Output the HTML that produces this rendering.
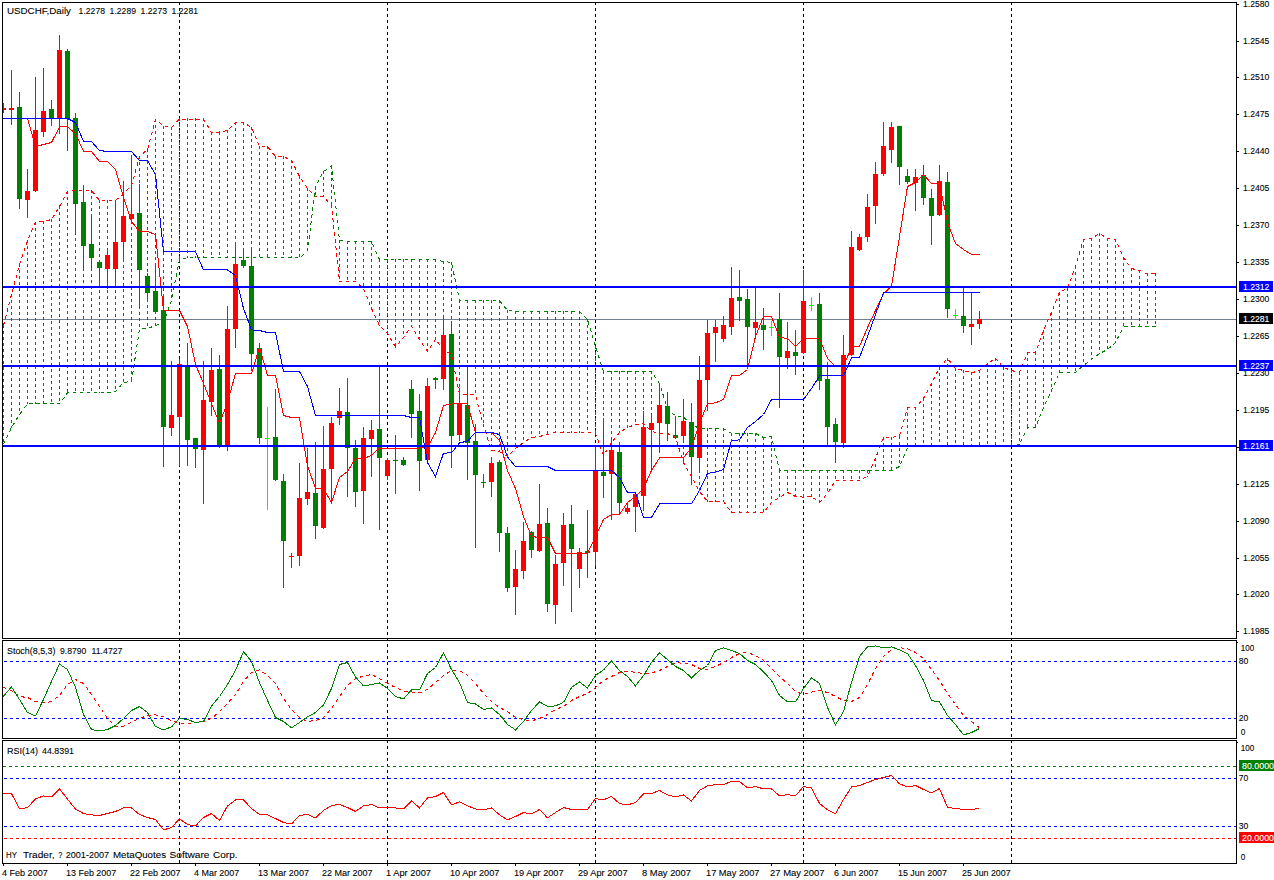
<!DOCTYPE html>
<html><head><meta charset="utf-8"><title>USDCHF Daily</title>
<style>html,body{margin:0;padding:0;background:#fff;overflow:hidden}svg{display:block}</style></head>
<body>
<svg width="1274" height="880" viewBox="0 0 1274 880" shape-rendering="crispEdges" font-family="Liberation Sans, sans-serif" stroke-width="1">
<rect width="1274" height="880" fill="#fff"/>
<clipPath id="cm"><rect x="3" y="3" width="1233" height="635"/></clipPath>
<clipPath id="cs"><rect x="3" y="641" width="1233" height="97"/></clipPath>
<clipPath id="cr"><rect x="3" y="741" width="1233" height="122"/></clipPath>
<line x1="179.5" y1="2" x2="179.5" y2="863" stroke="#000" stroke-dasharray="3 3"/>
<line x1="387.5" y1="2" x2="387.5" y2="863" stroke="#000" stroke-dasharray="3 3"/>
<line x1="595.5" y1="2" x2="595.5" y2="863" stroke="#000" stroke-dasharray="3 3"/>
<line x1="803.5" y1="2" x2="803.5" y2="863" stroke="#000" stroke-dasharray="3 3"/>
<line x1="1011.5" y1="2" x2="1011.5" y2="863" stroke="#000" stroke-dasharray="3 3"/>
<g clip-path="url(#cm)">
<line x1="3" y1="319.5" x2="1237" y2="319.5" stroke="#708090" stroke-width="1"/>
<rect x="3" y="103" width="1" height="10" fill="#ff0000"/>
<rect x="1" y="108" width="5" height="2" fill="#ff0000"/>
<rect x="11" y="70" width="1" height="55" fill="#ff0000"/>
<rect x="9" y="108" width="5" height="2" fill="#ff0000"/>
<rect x="19" y="92" width="1" height="117" fill="#008000"/>
<rect x="17" y="107" width="5" height="92" fill="#008000"/>
<rect x="27" y="169" width="1" height="49" fill="#ff0000"/>
<rect x="25" y="191" width="5" height="9" fill="#ff0000"/>
<rect x="35" y="77" width="1" height="115" fill="#ff0000"/>
<rect x="33" y="130" width="5" height="61" fill="#ff0000"/>
<rect x="43" y="68" width="1" height="69" fill="#ff0000"/>
<rect x="41" y="111" width="5" height="21" fill="#ff0000"/>
<rect x="51" y="100" width="1" height="26" fill="#008000"/>
<rect x="49" y="109" width="5" height="10" fill="#008000"/>
<rect x="59" y="35" width="1" height="99" fill="#ff0000"/>
<rect x="57" y="50" width="5" height="69" fill="#ff0000"/>
<rect x="67" y="49" width="1" height="102" fill="#008000"/>
<rect x="65" y="51" width="5" height="68" fill="#008000"/>
<rect x="75" y="113" width="1" height="120" fill="#008000"/>
<rect x="73" y="118" width="5" height="86" fill="#008000"/>
<rect x="83" y="185" width="1" height="84" fill="#008000"/>
<rect x="81" y="202" width="5" height="44" fill="#008000"/>
<rect x="91" y="214" width="1" height="55" fill="#008000"/>
<rect x="89" y="244" width="5" height="14" fill="#008000"/>
<rect x="99" y="261" width="1" height="27" fill="#008000"/>
<rect x="97" y="262" width="5" height="6" fill="#008000"/>
<rect x="107" y="248" width="1" height="41" fill="#ff0000"/>
<rect x="105" y="255" width="5" height="14" fill="#ff0000"/>
<rect x="115" y="200" width="1" height="88" fill="#ff0000"/>
<rect x="113" y="242" width="5" height="27" fill="#ff0000"/>
<rect x="123" y="181" width="1" height="79" fill="#ff0000"/>
<rect x="121" y="216" width="5" height="26" fill="#ff0000"/>
<rect x="131" y="155" width="1" height="67" fill="#ff0000"/>
<rect x="129" y="214" width="5" height="5" fill="#ff0000"/>
<rect x="139" y="184" width="1" height="123" fill="#008000"/>
<rect x="137" y="213" width="5" height="57" fill="#008000"/>
<rect x="147" y="273" width="1" height="27" fill="#008000"/>
<rect x="145" y="276" width="5" height="17" fill="#008000"/>
<rect x="155" y="265" width="1" height="49" fill="#008000"/>
<rect x="153" y="291" width="5" height="21" fill="#008000"/>
<rect x="163" y="296" width="1" height="171" fill="#008000"/>
<rect x="161" y="310" width="5" height="117" fill="#008000"/>
<rect x="171" y="361" width="1" height="75" fill="#ff0000"/>
<rect x="169" y="415" width="5" height="13" fill="#ff0000"/>
<rect x="179" y="359" width="1" height="107" fill="#ff0000"/>
<rect x="177" y="364" width="5" height="53" fill="#ff0000"/>
<rect x="187" y="343" width="1" height="123" fill="#008000"/>
<rect x="185" y="367" width="5" height="73" fill="#008000"/>
<rect x="195" y="438" width="1" height="30" fill="#008000"/>
<rect x="193" y="438" width="5" height="11" fill="#008000"/>
<rect x="203" y="361" width="1" height="143" fill="#ff0000"/>
<rect x="201" y="400" width="5" height="50" fill="#ff0000"/>
<rect x="211" y="348" width="1" height="68" fill="#ff0000"/>
<rect x="209" y="370" width="5" height="32" fill="#ff0000"/>
<rect x="219" y="355" width="1" height="93" fill="#008000"/>
<rect x="217" y="369" width="5" height="77" fill="#008000"/>
<rect x="227" y="306" width="1" height="145" fill="#ff0000"/>
<rect x="225" y="329" width="5" height="117" fill="#ff0000"/>
<rect x="235" y="242" width="1" height="106" fill="#ff0000"/>
<rect x="233" y="264" width="5" height="65" fill="#ff0000"/>
<rect x="243" y="249" width="1" height="19" fill="#008000"/>
<rect x="241" y="260" width="5" height="6" fill="#008000"/>
<rect x="251" y="249" width="1" height="122" fill="#008000"/>
<rect x="249" y="266" width="5" height="88" fill="#008000"/>
<rect x="259" y="343" width="1" height="101" fill="#008000"/>
<rect x="257" y="348" width="5" height="90" fill="#008000"/>
<rect x="267" y="407" width="1" height="103" fill="#00ff00"/>
<rect x="265" y="438" width="5" height="1" fill="#00ff00"/>
<rect x="275" y="389" width="1" height="92" fill="#008000"/>
<rect x="273" y="437" width="5" height="43" fill="#008000"/>
<rect x="283" y="474" width="1" height="114" fill="#008000"/>
<rect x="281" y="481" width="5" height="60" fill="#008000"/>
<rect x="291" y="553" width="1" height="15" fill="#ff0000"/>
<rect x="289" y="556" width="5" height="1" fill="#ff0000"/>
<rect x="299" y="463" width="1" height="103" fill="#ff0000"/>
<rect x="297" y="498" width="5" height="58" fill="#ff0000"/>
<rect x="307" y="448" width="1" height="57" fill="#ff0000"/>
<rect x="305" y="492" width="5" height="7" fill="#ff0000"/>
<rect x="315" y="442" width="1" height="97" fill="#008000"/>
<rect x="313" y="493" width="5" height="33" fill="#008000"/>
<rect x="323" y="426" width="1" height="103" fill="#ff0000"/>
<rect x="321" y="469" width="5" height="59" fill="#ff0000"/>
<rect x="331" y="417" width="1" height="86" fill="#ff0000"/>
<rect x="329" y="423" width="5" height="46" fill="#ff0000"/>
<rect x="339" y="388" width="1" height="37" fill="#ff0000"/>
<rect x="337" y="411" width="5" height="7" fill="#ff0000"/>
<rect x="347" y="378" width="1" height="119" fill="#008000"/>
<rect x="345" y="412" width="5" height="36" fill="#008000"/>
<rect x="355" y="440" width="1" height="67" fill="#008000"/>
<rect x="353" y="448" width="5" height="44" fill="#008000"/>
<rect x="363" y="427" width="1" height="97" fill="#ff0000"/>
<rect x="361" y="438" width="5" height="53" fill="#ff0000"/>
<rect x="371" y="420" width="1" height="57" fill="#ff0000"/>
<rect x="369" y="430" width="5" height="9" fill="#ff0000"/>
<rect x="379" y="367" width="1" height="163" fill="#008000"/>
<rect x="377" y="429" width="5" height="29" fill="#008000"/>
<rect x="387" y="458" width="1" height="22" fill="#ff0000"/>
<rect x="385" y="460" width="5" height="16" fill="#ff0000"/>
<rect x="395" y="435" width="1" height="59" fill="#008000"/>
<rect x="393" y="460" width="5" height="1" fill="#008000"/>
<rect x="403" y="457" width="1" height="9" fill="#008000"/>
<rect x="401" y="460" width="5" height="5" fill="#008000"/>
<rect x="411" y="380" width="1" height="58" fill="#008000"/>
<rect x="409" y="389" width="5" height="25" fill="#008000"/>
<rect x="419" y="394" width="1" height="97" fill="#008000"/>
<rect x="417" y="411" width="5" height="50" fill="#008000"/>
<rect x="427" y="378" width="1" height="83" fill="#ff0000"/>
<rect x="425" y="386" width="5" height="74" fill="#ff0000"/>
<rect x="435" y="377" width="1" height="12" fill="#008000"/>
<rect x="433" y="378" width="5" height="2" fill="#008000"/>
<rect x="443" y="318" width="1" height="72" fill="#ff0000"/>
<rect x="441" y="335" width="5" height="44" fill="#ff0000"/>
<rect x="451" y="321" width="1" height="147" fill="#008000"/>
<rect x="449" y="334" width="5" height="102" fill="#008000"/>
<rect x="459" y="388" width="1" height="53" fill="#ff0000"/>
<rect x="457" y="403" width="5" height="32" fill="#ff0000"/>
<rect x="467" y="365" width="1" height="115" fill="#008000"/>
<rect x="465" y="405" width="5" height="38" fill="#008000"/>
<rect x="475" y="424" width="1" height="124" fill="#008000"/>
<rect x="473" y="441" width="5" height="34" fill="#008000"/>
<rect x="483" y="474" width="1" height="14" fill="#008000"/>
<rect x="481" y="482" width="5" height="1" fill="#008000"/>
<rect x="491" y="457" width="1" height="40" fill="#ff0000"/>
<rect x="489" y="463" width="5" height="19" fill="#ff0000"/>
<rect x="499" y="460" width="1" height="92" fill="#008000"/>
<rect x="497" y="462" width="5" height="71" fill="#008000"/>
<rect x="507" y="527" width="1" height="65" fill="#008000"/>
<rect x="505" y="533" width="5" height="55" fill="#008000"/>
<rect x="515" y="550" width="1" height="65" fill="#ff0000"/>
<rect x="513" y="569" width="5" height="18" fill="#ff0000"/>
<rect x="523" y="522" width="1" height="57" fill="#ff0000"/>
<rect x="521" y="541" width="5" height="30" fill="#ff0000"/>
<rect x="531" y="531" width="1" height="27" fill="#008000"/>
<rect x="529" y="532" width="5" height="18" fill="#008000"/>
<rect x="539" y="484" width="1" height="68" fill="#ff0000"/>
<rect x="537" y="524" width="5" height="27" fill="#ff0000"/>
<rect x="547" y="508" width="1" height="104" fill="#008000"/>
<rect x="545" y="523" width="5" height="81" fill="#008000"/>
<rect x="555" y="555" width="1" height="69" fill="#ff0000"/>
<rect x="553" y="564" width="5" height="41" fill="#ff0000"/>
<rect x="563" y="513" width="1" height="73" fill="#ff0000"/>
<rect x="561" y="525" width="5" height="38" fill="#ff0000"/>
<rect x="571" y="505" width="1" height="107" fill="#008000"/>
<rect x="569" y="524" width="5" height="25" fill="#008000"/>
<rect x="579" y="548" width="1" height="40" fill="#ff0000"/>
<rect x="577" y="552" width="5" height="17" fill="#ff0000"/>
<rect x="587" y="510" width="1" height="68" fill="#008000"/>
<rect x="585" y="551" width="5" height="2" fill="#008000"/>
<rect x="595" y="446" width="1" height="120" fill="#ff0000"/>
<rect x="593" y="471" width="5" height="81" fill="#ff0000"/>
<rect x="603" y="418" width="1" height="80" fill="#008000"/>
<rect x="601" y="472" width="5" height="4" fill="#008000"/>
<rect x="611" y="438" width="1" height="82" fill="#ff0000"/>
<rect x="609" y="450" width="5" height="24" fill="#ff0000"/>
<rect x="619" y="442" width="1" height="72" fill="#008000"/>
<rect x="617" y="452" width="5" height="51" fill="#008000"/>
<rect x="627" y="502" width="1" height="12" fill="#ff0000"/>
<rect x="625" y="508" width="5" height="4" fill="#ff0000"/>
<rect x="635" y="492" width="1" height="40" fill="#ff0000"/>
<rect x="633" y="494" width="5" height="13" fill="#ff0000"/>
<rect x="643" y="411" width="1" height="100" fill="#ff0000"/>
<rect x="641" y="427" width="5" height="69" fill="#ff0000"/>
<rect x="651" y="415" width="1" height="55" fill="#ff0000"/>
<rect x="649" y="423" width="5" height="7" fill="#ff0000"/>
<rect x="659" y="383" width="1" height="70" fill="#ff0000"/>
<rect x="657" y="405" width="5" height="18" fill="#ff0000"/>
<rect x="667" y="392" width="1" height="49" fill="#008000"/>
<rect x="665" y="406" width="5" height="18" fill="#008000"/>
<rect x="675" y="418" width="1" height="21" fill="#008000"/>
<rect x="673" y="435" width="5" height="3" fill="#008000"/>
<rect x="683" y="399" width="1" height="43" fill="#ff0000"/>
<rect x="681" y="421" width="5" height="15" fill="#ff0000"/>
<rect x="691" y="403" width="1" height="82" fill="#008000"/>
<rect x="689" y="422" width="5" height="35" fill="#008000"/>
<rect x="699" y="356" width="1" height="117" fill="#ff0000"/>
<rect x="697" y="380" width="5" height="78" fill="#ff0000"/>
<rect x="707" y="320" width="1" height="91" fill="#ff0000"/>
<rect x="705" y="333" width="5" height="47" fill="#ff0000"/>
<rect x="715" y="320" width="1" height="42" fill="#ff0000"/>
<rect x="713" y="327" width="5" height="6" fill="#ff0000"/>
<rect x="723" y="316" width="1" height="26" fill="#ff0000"/>
<rect x="721" y="325" width="5" height="14" fill="#ff0000"/>
<rect x="731" y="267" width="1" height="68" fill="#ff0000"/>
<rect x="729" y="298" width="5" height="29" fill="#ff0000"/>
<rect x="739" y="270" width="1" height="51" fill="#008000"/>
<rect x="737" y="297" width="5" height="4" fill="#008000"/>
<rect x="747" y="289" width="1" height="77" fill="#008000"/>
<rect x="745" y="299" width="5" height="28" fill="#008000"/>
<rect x="755" y="288" width="1" height="49" fill="#ff0000"/>
<rect x="753" y="322" width="5" height="6" fill="#ff0000"/>
<rect x="763" y="308" width="1" height="42" fill="#008000"/>
<rect x="761" y="325" width="5" height="5" fill="#008000"/>
<rect x="771" y="321" width="1" height="15" fill="#00ff00"/>
<rect x="769" y="327" width="5" height="1" fill="#00ff00"/>
<rect x="779" y="293" width="1" height="115" fill="#008000"/>
<rect x="777" y="319" width="5" height="38" fill="#008000"/>
<rect x="787" y="322" width="1" height="47" fill="#ff0000"/>
<rect x="785" y="351" width="5" height="7" fill="#ff0000"/>
<rect x="795" y="330" width="1" height="45" fill="#008000"/>
<rect x="793" y="352" width="5" height="4" fill="#008000"/>
<rect x="803" y="270" width="1" height="84" fill="#ff0000"/>
<rect x="801" y="301" width="5" height="52" fill="#ff0000"/>
<rect x="811" y="297" width="1" height="14" fill="#00ff00"/>
<rect x="809" y="305" width="5" height="1" fill="#00ff00"/>
<rect x="819" y="293" width="1" height="97" fill="#008000"/>
<rect x="817" y="304" width="5" height="77" fill="#008000"/>
<rect x="827" y="362" width="1" height="85" fill="#008000"/>
<rect x="825" y="379" width="5" height="48" fill="#008000"/>
<rect x="835" y="418" width="1" height="45" fill="#008000"/>
<rect x="833" y="424" width="5" height="18" fill="#008000"/>
<rect x="843" y="335" width="1" height="113" fill="#ff0000"/>
<rect x="841" y="355" width="5" height="88" fill="#ff0000"/>
<rect x="851" y="231" width="1" height="125" fill="#ff0000"/>
<rect x="849" y="247" width="5" height="108" fill="#ff0000"/>
<rect x="859" y="234" width="1" height="17" fill="#ff0000"/>
<rect x="857" y="237" width="5" height="13" fill="#ff0000"/>
<rect x="867" y="194" width="1" height="48" fill="#ff0000"/>
<rect x="865" y="207" width="5" height="30" fill="#ff0000"/>
<rect x="875" y="162" width="1" height="62" fill="#ff0000"/>
<rect x="873" y="174" width="5" height="32" fill="#ff0000"/>
<rect x="883" y="122" width="1" height="54" fill="#ff0000"/>
<rect x="881" y="146" width="5" height="28" fill="#ff0000"/>
<rect x="891" y="122" width="1" height="41" fill="#ff0000"/>
<rect x="889" y="127" width="5" height="23" fill="#ff0000"/>
<rect x="899" y="126" width="1" height="59" fill="#008000"/>
<rect x="897" y="126" width="5" height="41" fill="#008000"/>
<rect x="907" y="169" width="1" height="15" fill="#008000"/>
<rect x="905" y="176" width="5" height="6" fill="#008000"/>
<rect x="915" y="169" width="1" height="42" fill="#ff0000"/>
<rect x="913" y="177" width="5" height="6" fill="#ff0000"/>
<rect x="923" y="165" width="1" height="40" fill="#008000"/>
<rect x="921" y="175" width="5" height="23" fill="#008000"/>
<rect x="931" y="189" width="1" height="56" fill="#008000"/>
<rect x="929" y="198" width="5" height="18" fill="#008000"/>
<rect x="939" y="165" width="1" height="51" fill="#ff0000"/>
<rect x="937" y="181" width="5" height="34" fill="#ff0000"/>
<rect x="947" y="172" width="1" height="146" fill="#008000"/>
<rect x="945" y="182" width="5" height="127" fill="#008000"/>
<rect x="955" y="309" width="1" height="11" fill="#00ff00"/>
<rect x="953" y="315" width="5" height="1" fill="#00ff00"/>
<rect x="963" y="288" width="1" height="45" fill="#008000"/>
<rect x="961" y="316" width="5" height="10" fill="#008000"/>
<rect x="971" y="293" width="1" height="52" fill="#ff0000"/>
<rect x="969" y="324" width="5" height="3" fill="#ff0000"/>
<rect x="979" y="311" width="1" height="18" fill="#ff0000"/>
<rect x="977" y="319" width="5" height="5" fill="#ff0000"/>
<polyline points="3.0,118.5 3.5,118.5 11.5,118.5 19.5,118.5 27.5,118.5 35.5,146.5 43.5,144.5 51.5,142.5 59.5,126.9 67.5,126.9 75.5,133.5 83.5,151.5 91.5,151.5 99.5,161.5 107.5,161.5 115.5,169.5 123.5,197.5 131.5,221.5 139.5,231.5 147.5,231.5 155.5,234.5 163.5,310.5 171.5,310.5 179.5,310.5 187.5,326.5 195.5,364.5 203.5,383.5 211.5,403.5 219.5,423.5 227.5,402.5 235.5,373.5 243.5,373.5 251.5,373.5 259.5,347.5 267.5,375.5 275.5,375.5 283.5,415.5 291.5,417.5 299.5,417.5 307.5,465.5 315.5,488.5 323.5,488.5 331.5,502.5 339.5,477.5 347.5,471.5 355.5,458.5 363.5,458.5 371.5,455.5 379.5,448.0 387.5,448.0 395.5,448.0 403.5,448.0 411.5,448.0 419.5,448.0 427.5,447.5 435.5,432.5 443.5,405.5 451.5,403.9 459.5,403.9 467.5,403.9 475.5,432.5 483.5,432.5 491.5,432.5 499.5,440.5 507.5,470.5 515.5,488.5 523.5,516.5 531.5,536.5 539.5,537.5 547.5,537.5 555.5,553.5 563.5,553.5 571.5,553.5 579.5,553.5 587.5,553.5 595.5,536.5 603.5,519.5 611.5,514.5 619.5,514.5 627.5,502.5 635.5,496.5 643.5,488.5 651.5,470.5 659.5,457.9 667.5,457.9 675.5,457.9 683.5,457.9 691.5,447.5 699.5,423.5 707.5,403.5 715.5,402.9 723.5,399.5 731.5,375.9 739.5,375.5 747.5,369.5 755.5,336.5 763.5,316.5 771.5,316.5 779.5,337.5 787.5,338.5 795.5,346.5 803.5,338.5 811.5,338.5 819.5,338.5 827.5,358.5 835.5,366.5 843.5,366.5 851.5,346.9 859.5,346.5 867.5,327.5 875.5,310.5 883.5,293.5 891.5,286.5 899.5,236.5 907.5,186.5 915.5,182.5 923.5,174.5 931.5,183.5 939.5,183.5 947.5,222.5 955.5,243.5 963.5,249.5 971.5,254.5 979.5,254.5" fill="none" stroke="#ff0000"/>
<polyline points="3.0,118.5 3.5,118.5 11.5,118.5 19.5,118.5 27.5,118.5 35.5,118.5 43.5,118.5 51.5,118.5 59.5,118.5 67.5,118.5 75.5,122.5 83.5,141.5 91.5,141.5 99.5,150.5 107.5,151.5 115.5,151.5 123.5,151.5 131.5,151.5 139.5,160.5 147.5,160.5 155.5,174.5 163.5,251.9 171.5,251.9 179.5,251.9 187.5,251.9 195.5,251.9 203.5,269.9 211.5,269.9 219.5,269.9 227.5,269.9 235.5,275.5 243.5,308.5 251.5,329.9 259.5,330.5 267.5,332.5 275.5,332.5 283.5,371.5 291.5,371.5 299.5,371.5 307.5,386.5 315.5,415.5 323.5,415.5 331.5,415.5 339.5,415.5 347.5,415.5 355.5,415.5 363.5,415.5 371.5,415.5 379.5,415.5 387.5,415.5 395.5,415.5 403.5,415.5 411.5,417.5 419.5,417.5 427.5,462.5 435.5,476.5 443.5,453.1 451.5,452.9 459.5,443.0 467.5,441.0 475.5,432.5 483.5,432.5 491.5,432.5 499.5,434.5 507.5,457.0 515.5,466.5 523.5,466.5 531.5,466.5 539.5,466.5 547.5,466.5 555.5,470.5 563.5,470.5 571.5,470.5 579.5,470.5 587.5,470.5 595.5,470.5 603.5,470.5 611.5,470.5 619.5,477.5 627.5,492.5 635.5,492.5 643.5,517.5 651.5,517.5 659.5,503.9 667.5,503.9 675.5,503.9 683.5,503.9 691.5,503.9 699.5,490.5 707.5,473.5 715.5,472.1 723.5,469.5 731.5,440.5 739.5,439.9 747.5,427.5 755.5,421.5 763.5,414.5 771.5,399.5 779.5,399.5 787.5,399.5 795.5,399.5 803.5,399.5 811.5,388.5 819.5,375.9 827.5,375.9 835.5,375.9 843.5,375.9 851.5,357.9 859.5,357.5 867.5,336.5 875.5,314.5 883.5,292.9 891.5,292.9 899.5,292.9 907.5,292.9 915.5,292.9 923.5,292.9 931.5,292.9 939.5,292.9 947.5,292.9 955.5,292.9 963.5,292.9 971.5,292.9 979.5,292.9" fill="none" stroke="#0000ff"/>
<line x1="3.5" y1="325" x2="3.5" y2="445" stroke="#ff0000" stroke-dasharray="3 3"/>
<line x1="11.5" y1="294" x2="11.5" y2="428" stroke="#ff0000" stroke-dasharray="3 3"/>
<line x1="19.5" y1="264" x2="19.5" y2="415" stroke="#ff0000" stroke-dasharray="3 3"/>
<line x1="27.5" y1="240" x2="27.5" y2="404" stroke="#ff0000" stroke-dasharray="3 3"/>
<line x1="35.5" y1="222" x2="35.5" y2="404" stroke="#ff0000" stroke-dasharray="3 3"/>
<line x1="43.5" y1="221" x2="43.5" y2="404" stroke="#ff0000" stroke-dasharray="3 3"/>
<line x1="51.5" y1="219" x2="51.5" y2="404" stroke="#ff0000" stroke-dasharray="3 3"/>
<line x1="59.5" y1="206" x2="59.5" y2="404" stroke="#ff0000" stroke-dasharray="3 3"/>
<line x1="67.5" y1="191" x2="67.5" y2="393" stroke="#ff0000" stroke-dasharray="3 3"/>
<line x1="75.5" y1="190" x2="75.5" y2="393" stroke="#ff0000" stroke-dasharray="3 3"/>
<line x1="83.5" y1="190" x2="83.5" y2="393" stroke="#ff0000" stroke-dasharray="3 3"/>
<line x1="91.5" y1="190" x2="91.5" y2="393" stroke="#ff0000" stroke-dasharray="3 3"/>
<line x1="99.5" y1="200" x2="99.5" y2="393" stroke="#ff0000" stroke-dasharray="3 3"/>
<line x1="107.5" y1="200" x2="107.5" y2="393" stroke="#ff0000" stroke-dasharray="3 3"/>
<line x1="115.5" y1="200" x2="115.5" y2="392" stroke="#ff0000" stroke-dasharray="3 3"/>
<line x1="123.5" y1="193" x2="123.5" y2="383" stroke="#ff0000" stroke-dasharray="3 3"/>
<line x1="131.5" y1="185" x2="131.5" y2="382" stroke="#ff0000" stroke-dasharray="3 3"/>
<line x1="139.5" y1="156" x2="139.5" y2="330" stroke="#ff0000" stroke-dasharray="3 3"/>
<line x1="147.5" y1="149" x2="147.5" y2="329" stroke="#ff0000" stroke-dasharray="3 3"/>
<line x1="155.5" y1="119" x2="155.5" y2="326" stroke="#ff0000" stroke-dasharray="3 3"/>
<line x1="163.5" y1="126" x2="163.5" y2="323" stroke="#ff0000" stroke-dasharray="3 3"/>
<line x1="171.5" y1="127" x2="171.5" y2="301" stroke="#ff0000" stroke-dasharray="3 3"/>
<line x1="179.5" y1="118" x2="179.5" y2="260" stroke="#ff0000" stroke-dasharray="3 3"/>
<line x1="187.5" y1="118" x2="187.5" y2="258" stroke="#ff0000" stroke-dasharray="3 3"/>
<line x1="195.5" y1="118" x2="195.5" y2="258" stroke="#ff0000" stroke-dasharray="3 3"/>
<line x1="203.5" y1="118" x2="203.5" y2="258" stroke="#ff0000" stroke-dasharray="3 3"/>
<line x1="211.5" y1="132" x2="211.5" y2="258" stroke="#ff0000" stroke-dasharray="3 3"/>
<line x1="219.5" y1="132" x2="219.5" y2="258" stroke="#ff0000" stroke-dasharray="3 3"/>
<line x1="227.5" y1="130" x2="227.5" y2="258" stroke="#ff0000" stroke-dasharray="3 3"/>
<line x1="235.5" y1="122" x2="235.5" y2="258" stroke="#ff0000" stroke-dasharray="3 3"/>
<line x1="243.5" y1="122" x2="243.5" y2="258" stroke="#ff0000" stroke-dasharray="3 3"/>
<line x1="251.5" y1="127" x2="251.5" y2="258" stroke="#ff0000" stroke-dasharray="3 3"/>
<line x1="259.5" y1="146" x2="259.5" y2="258" stroke="#ff0000" stroke-dasharray="3 3"/>
<line x1="267.5" y1="146" x2="267.5" y2="258" stroke="#ff0000" stroke-dasharray="3 3"/>
<line x1="275.5" y1="156" x2="275.5" y2="258" stroke="#ff0000" stroke-dasharray="3 3"/>
<line x1="283.5" y1="156" x2="283.5" y2="258" stroke="#ff0000" stroke-dasharray="3 3"/>
<line x1="291.5" y1="160" x2="291.5" y2="258" stroke="#ff0000" stroke-dasharray="3 3"/>
<line x1="299.5" y1="176" x2="299.5" y2="258" stroke="#ff0000" stroke-dasharray="3 3"/>
<line x1="307.5" y1="188" x2="307.5" y2="252" stroke="#ff0000" stroke-dasharray="3 3"/>
<line x1="315.5" y1="186" x2="315.5" y2="197" stroke="#008000" stroke-dasharray="3 3"/>
<line x1="323.5" y1="171" x2="323.5" y2="197" stroke="#008000" stroke-dasharray="3 3"/>
<line x1="331.5" y1="166" x2="331.5" y2="206" stroke="#008000" stroke-dasharray="3 3"/>
<line x1="339.5" y1="240" x2="339.5" y2="282" stroke="#008000" stroke-dasharray="3 3"/>
<line x1="347.5" y1="241" x2="347.5" y2="282" stroke="#008000" stroke-dasharray="3 3"/>
<line x1="355.5" y1="241" x2="355.5" y2="282" stroke="#008000" stroke-dasharray="3 3"/>
<line x1="363.5" y1="241" x2="363.5" y2="289" stroke="#008000" stroke-dasharray="3 3"/>
<line x1="371.5" y1="241" x2="371.5" y2="309" stroke="#008000" stroke-dasharray="3 3"/>
<line x1="379.5" y1="259" x2="379.5" y2="326" stroke="#008000" stroke-dasharray="3 3"/>
<line x1="387.5" y1="259" x2="387.5" y2="334" stroke="#008000" stroke-dasharray="3 3"/>
<line x1="395.5" y1="259" x2="395.5" y2="347" stroke="#008000" stroke-dasharray="3 3"/>
<line x1="403.5" y1="259" x2="403.5" y2="338" stroke="#008000" stroke-dasharray="3 3"/>
<line x1="411.5" y1="259" x2="411.5" y2="327" stroke="#008000" stroke-dasharray="3 3"/>
<line x1="419.5" y1="259" x2="419.5" y2="340" stroke="#008000" stroke-dasharray="3 3"/>
<line x1="427.5" y1="259" x2="427.5" y2="352" stroke="#008000" stroke-dasharray="3 3"/>
<line x1="435.5" y1="259" x2="435.5" y2="340" stroke="#008000" stroke-dasharray="3 3"/>
<line x1="443.5" y1="261" x2="443.5" y2="350" stroke="#008000" stroke-dasharray="3 3"/>
<line x1="451.5" y1="262" x2="451.5" y2="355" stroke="#008000" stroke-dasharray="3 3"/>
<line x1="459.5" y1="300" x2="459.5" y2="395" stroke="#008000" stroke-dasharray="3 3"/>
<line x1="467.5" y1="300" x2="467.5" y2="395" stroke="#008000" stroke-dasharray="3 3"/>
<line x1="475.5" y1="300" x2="475.5" y2="395" stroke="#008000" stroke-dasharray="3 3"/>
<line x1="483.5" y1="300" x2="483.5" y2="426" stroke="#008000" stroke-dasharray="3 3"/>
<line x1="491.5" y1="300" x2="491.5" y2="451" stroke="#008000" stroke-dasharray="3 3"/>
<line x1="499.5" y1="300" x2="499.5" y2="452" stroke="#008000" stroke-dasharray="3 3"/>
<line x1="507.5" y1="310" x2="507.5" y2="457" stroke="#008000" stroke-dasharray="3 3"/>
<line x1="515.5" y1="311" x2="515.5" y2="449" stroke="#008000" stroke-dasharray="3 3"/>
<line x1="523.5" y1="311" x2="523.5" y2="443" stroke="#008000" stroke-dasharray="3 3"/>
<line x1="531.5" y1="311" x2="531.5" y2="438" stroke="#008000" stroke-dasharray="3 3"/>
<line x1="539.5" y1="311" x2="539.5" y2="437" stroke="#008000" stroke-dasharray="3 3"/>
<line x1="547.5" y1="311" x2="547.5" y2="435" stroke="#008000" stroke-dasharray="3 3"/>
<line x1="555.5" y1="311" x2="555.5" y2="433" stroke="#008000" stroke-dasharray="3 3"/>
<line x1="563.5" y1="311" x2="563.5" y2="433" stroke="#008000" stroke-dasharray="3 3"/>
<line x1="571.5" y1="311" x2="571.5" y2="433" stroke="#008000" stroke-dasharray="3 3"/>
<line x1="579.5" y1="311" x2="579.5" y2="433" stroke="#008000" stroke-dasharray="3 3"/>
<line x1="587.5" y1="319" x2="587.5" y2="433" stroke="#008000" stroke-dasharray="3 3"/>
<line x1="595.5" y1="346" x2="595.5" y2="434" stroke="#008000" stroke-dasharray="3 3"/>
<line x1="603.5" y1="371" x2="603.5" y2="456" stroke="#008000" stroke-dasharray="3 3"/>
<line x1="611.5" y1="371" x2="611.5" y2="443" stroke="#008000" stroke-dasharray="3 3"/>
<line x1="619.5" y1="371" x2="619.5" y2="433" stroke="#008000" stroke-dasharray="3 3"/>
<line x1="627.5" y1="371" x2="627.5" y2="428" stroke="#008000" stroke-dasharray="3 3"/>
<line x1="635.5" y1="371" x2="635.5" y2="425" stroke="#008000" stroke-dasharray="3 3"/>
<line x1="643.5" y1="371" x2="643.5" y2="424" stroke="#008000" stroke-dasharray="3 3"/>
<line x1="651.5" y1="371" x2="651.5" y2="432" stroke="#008000" stroke-dasharray="3 3"/>
<line x1="659.5" y1="383" x2="659.5" y2="433" stroke="#008000" stroke-dasharray="3 3"/>
<line x1="667.5" y1="408" x2="667.5" y2="434" stroke="#008000" stroke-dasharray="3 3"/>
<line x1="675.5" y1="416" x2="675.5" y2="438" stroke="#008000" stroke-dasharray="3 3"/>
<line x1="683.5" y1="416" x2="683.5" y2="463" stroke="#008000" stroke-dasharray="3 3"/>
<line x1="691.5" y1="424" x2="691.5" y2="477" stroke="#008000" stroke-dasharray="3 3"/>
<line x1="699.5" y1="428" x2="699.5" y2="492" stroke="#008000" stroke-dasharray="3 3"/>
<line x1="707.5" y1="428" x2="707.5" y2="502" stroke="#008000" stroke-dasharray="3 3"/>
<line x1="715.5" y1="428" x2="715.5" y2="502" stroke="#008000" stroke-dasharray="3 3"/>
<line x1="723.5" y1="428" x2="723.5" y2="502" stroke="#008000" stroke-dasharray="3 3"/>
<line x1="731.5" y1="433" x2="731.5" y2="513" stroke="#008000" stroke-dasharray="3 3"/>
<line x1="739.5" y1="433" x2="739.5" y2="513" stroke="#008000" stroke-dasharray="3 3"/>
<line x1="747.5" y1="433" x2="747.5" y2="513" stroke="#008000" stroke-dasharray="3 3"/>
<line x1="755.5" y1="433" x2="755.5" y2="513" stroke="#008000" stroke-dasharray="3 3"/>
<line x1="763.5" y1="437" x2="763.5" y2="513" stroke="#008000" stroke-dasharray="3 3"/>
<line x1="771.5" y1="436" x2="771.5" y2="503" stroke="#008000" stroke-dasharray="3 3"/>
<line x1="779.5" y1="470" x2="779.5" y2="498" stroke="#008000" stroke-dasharray="3 3"/>
<line x1="787.5" y1="470" x2="787.5" y2="493" stroke="#008000" stroke-dasharray="3 3"/>
<line x1="795.5" y1="470" x2="795.5" y2="497" stroke="#008000" stroke-dasharray="3 3"/>
<line x1="803.5" y1="470" x2="803.5" y2="498" stroke="#008000" stroke-dasharray="3 3"/>
<line x1="811.5" y1="470" x2="811.5" y2="497" stroke="#008000" stroke-dasharray="3 3"/>
<line x1="819.5" y1="470" x2="819.5" y2="503" stroke="#008000" stroke-dasharray="3 3"/>
<line x1="827.5" y1="470" x2="827.5" y2="494" stroke="#008000" stroke-dasharray="3 3"/>
<line x1="835.5" y1="470" x2="835.5" y2="481" stroke="#008000" stroke-dasharray="3 3"/>
<line x1="843.5" y1="470" x2="843.5" y2="481" stroke="#008000" stroke-dasharray="3 3"/>
<line x1="851.5" y1="470" x2="851.5" y2="481" stroke="#008000" stroke-dasharray="3 3"/>
<line x1="859.5" y1="470" x2="859.5" y2="481" stroke="#008000" stroke-dasharray="3 3"/>
<line x1="867.5" y1="470" x2="867.5" y2="477" stroke="#008000" stroke-dasharray="3 3"/>
<line x1="875.5" y1="458" x2="875.5" y2="471" stroke="#ff0000" stroke-dasharray="3 3"/>
<line x1="883.5" y1="437" x2="883.5" y2="471" stroke="#ff0000" stroke-dasharray="3 3"/>
<line x1="891.5" y1="437" x2="891.5" y2="471" stroke="#ff0000" stroke-dasharray="3 3"/>
<line x1="899.5" y1="436" x2="899.5" y2="467" stroke="#ff0000" stroke-dasharray="3 3"/>
<line x1="907.5" y1="407" x2="907.5" y2="448" stroke="#ff0000" stroke-dasharray="3 3"/>
<line x1="915.5" y1="407" x2="915.5" y2="447" stroke="#ff0000" stroke-dasharray="3 3"/>
<line x1="923.5" y1="398" x2="923.5" y2="447" stroke="#ff0000" stroke-dasharray="3 3"/>
<line x1="931.5" y1="383" x2="931.5" y2="447" stroke="#ff0000" stroke-dasharray="3 3"/>
<line x1="939.5" y1="367" x2="939.5" y2="447" stroke="#ff0000" stroke-dasharray="3 3"/>
<line x1="947.5" y1="358" x2="947.5" y2="447" stroke="#ff0000" stroke-dasharray="3 3"/>
<line x1="955.5" y1="368" x2="955.5" y2="447" stroke="#ff0000" stroke-dasharray="3 3"/>
<line x1="963.5" y1="370" x2="963.5" y2="447" stroke="#ff0000" stroke-dasharray="3 3"/>
<line x1="971.5" y1="372" x2="971.5" y2="447" stroke="#ff0000" stroke-dasharray="3 3"/>
<line x1="979.5" y1="370" x2="979.5" y2="447" stroke="#ff0000" stroke-dasharray="3 3"/>
<line x1="987.5" y1="363" x2="987.5" y2="447" stroke="#ff0000" stroke-dasharray="3 3"/>
<line x1="995.5" y1="358" x2="995.5" y2="447" stroke="#ff0000" stroke-dasharray="3 3"/>
<line x1="1003.5" y1="367" x2="1003.5" y2="447" stroke="#ff0000" stroke-dasharray="3 3"/>
<line x1="1011.5" y1="370" x2="1011.5" y2="447" stroke="#ff0000" stroke-dasharray="3 3"/>
<line x1="1019.5" y1="372" x2="1019.5" y2="445" stroke="#ff0000" stroke-dasharray="3 3"/>
<line x1="1027.5" y1="352" x2="1027.5" y2="428" stroke="#ff0000" stroke-dasharray="3 3"/>
<line x1="1035.5" y1="352" x2="1035.5" y2="428" stroke="#ff0000" stroke-dasharray="3 3"/>
<line x1="1043.5" y1="330" x2="1043.5" y2="408" stroke="#ff0000" stroke-dasharray="3 3"/>
<line x1="1051.5" y1="312" x2="1051.5" y2="391" stroke="#ff0000" stroke-dasharray="3 3"/>
<line x1="1059.5" y1="292" x2="1059.5" y2="373" stroke="#ff0000" stroke-dasharray="3 3"/>
<line x1="1067.5" y1="288" x2="1067.5" y2="373" stroke="#ff0000" stroke-dasharray="3 3"/>
<line x1="1075.5" y1="266" x2="1075.5" y2="373" stroke="#ff0000" stroke-dasharray="3 3"/>
<line x1="1083.5" y1="239" x2="1083.5" y2="366" stroke="#ff0000" stroke-dasharray="3 3"/>
<line x1="1091.5" y1="238" x2="1091.5" y2="360" stroke="#ff0000" stroke-dasharray="3 3"/>
<line x1="1099.5" y1="233" x2="1099.5" y2="354" stroke="#ff0000" stroke-dasharray="3 3"/>
<line x1="1107.5" y1="238" x2="1107.5" y2="350" stroke="#ff0000" stroke-dasharray="3 3"/>
<line x1="1115.5" y1="239" x2="1115.5" y2="343" stroke="#ff0000" stroke-dasharray="3 3"/>
<line x1="1123.5" y1="257" x2="1123.5" y2="327" stroke="#ff0000" stroke-dasharray="3 3"/>
<line x1="1131.5" y1="268" x2="1131.5" y2="327" stroke="#ff0000" stroke-dasharray="3 3"/>
<line x1="1139.5" y1="270" x2="1139.5" y2="327" stroke="#ff0000" stroke-dasharray="3 3"/>
<line x1="1147.5" y1="273" x2="1147.5" y2="327" stroke="#ff0000" stroke-dasharray="3 3"/>
<line x1="1155.5" y1="273" x2="1155.5" y2="327" stroke="#ff0000" stroke-dasharray="3 3"/>
<polyline points="3.5,325.5 11.5,294.5 19.5,264.5 27.5,240.5 35.5,222.5 43.5,221.5 51.5,219.5 59.5,206.5 67.5,191.5 75.5,190.5 83.5,190.5 91.5,190.5 99.5,200.5 107.5,200.5 115.5,200.5 123.5,193.5 131.5,185.9 139.5,156.5 147.5,149.5 155.5,119.5 163.5,126.1 171.5,127.5 179.5,119.0 187.5,119.0 195.5,119.0 203.5,119.0 211.5,132.5 219.5,132.0 227.5,130.5 235.5,122.5 243.5,122.5 251.5,127.5 259.5,146.5 267.5,146.5 275.5,156.5 283.5,156.5 291.5,160.5 299.5,176.5 307.5,188.5 315.5,196.9 323.5,196.9 331.5,205.5 339.5,281.5 347.5,281.5 355.5,281.5 363.5,288.5 371.5,308.5 379.5,325.5 387.5,333.5 395.5,346.9 403.5,337.5 411.5,326.5 419.5,339.5 427.5,351.5 435.5,339.5 443.5,349.5 451.5,354.5 459.5,394.1 467.5,394.1 475.5,395.0 483.5,425.5 491.5,450.5 499.5,451.5 507.5,456.5 515.5,448.5 523.5,442.5 531.5,437.5 539.5,436.5 547.5,434.5 555.5,432.1 563.5,432.1 571.5,432.1 579.5,432.1 587.5,432.1 595.5,433.5 603.5,455.5 611.5,442.5 619.5,432.5 627.5,427.5 635.5,424.5 643.5,423.5 651.5,431.5 659.5,433.0 667.5,433.5 675.5,437.5 683.5,462.5 691.5,476.5 699.5,491.5 707.5,501.5 715.5,501.5 723.5,501.5 731.5,512.5 739.5,512.5 747.5,512.5 755.5,512.5 763.5,512.5 771.5,502.5 779.5,497.5 787.5,492.5 795.5,496.5 803.5,497.1 811.5,496.5 819.5,502.5 827.5,493.5 835.5,480.5 843.5,480.5 851.5,480.5 859.5,480.5 867.5,476.1 875.5,458.5 883.5,437.5 891.5,437.5 899.5,436.1 907.5,407.9 915.5,407.9 923.5,398.5 931.5,383.5 939.5,367.5 947.5,358.5 955.5,368.5 963.5,370.5 971.5,372.9 979.5,370.5 987.5,363.5 995.5,358.5 1003.5,367.5 1011.5,370.5 1019.5,372.5 1027.5,352.5 1035.5,352.5 1043.5,330.5 1051.5,312.5 1059.5,292.1 1067.5,288.5 1075.5,266.5 1083.5,239.5 1091.5,238.5 1099.5,233.5 1107.5,238.5 1115.5,239.5 1123.5,257.5 1131.5,268.5 1139.5,270.5 1147.5,273.9 1155.5,273.9" fill="none" stroke="#ff0000" stroke-dasharray="3.5 3.5"/>
<polyline points="3.5,444.5 11.5,427.5 19.5,414.5 27.5,403.9 35.5,403.9 43.5,403.9 51.5,403.9 59.5,403.9 67.5,392.9 75.5,392.9 83.5,392.9 91.5,392.9 99.5,392.9 107.5,392.9 115.5,391.5 123.5,382.5 131.5,381.5 139.5,329.1 147.5,328.5 155.5,325.5 163.5,322.5 171.5,300.5 179.5,259.5 187.5,257.9 195.5,257.9 203.5,257.9 211.5,257.9 219.5,257.9 227.5,257.9 235.5,257.9 243.5,257.9 251.5,257.9 259.5,257.9 267.5,257.9 275.5,257.9 283.5,257.9 291.5,257.9 299.5,257.9 307.5,251.5 315.5,186.5 323.5,171.5 331.5,166.1 339.5,240.5 347.5,241.5 355.5,241.5 363.5,241.5 371.5,241.5 379.5,259.5 387.5,259.9 395.5,259.9 403.5,259.9 411.5,259.9 419.5,259.9 427.5,259.9 435.5,259.9 443.5,261.5 451.5,262.5 459.5,300.5 467.5,300.5 475.5,300.5 483.5,300.5 491.5,300.5 499.5,300.5 507.5,310.5 515.5,311.5 523.5,311.5 531.5,311.5 539.5,311.5 547.5,311.5 555.5,311.5 563.5,311.5 571.5,311.5 579.5,311.5 587.5,319.5 595.5,346.5 603.5,371.5 611.5,371.5 619.5,371.5 627.5,371.5 635.5,371.5 643.5,371.5 651.5,371.5 659.5,383.5 667.5,408.5 675.5,416.1 683.5,416.9 691.5,424.5 699.5,428.5 707.5,428.5 715.5,428.5 723.5,428.5 731.5,433.5 739.5,433.5 747.5,433.5 755.5,433.5 763.5,437.5 771.5,436.5 779.5,470.5 787.5,470.5 795.5,470.5 803.5,470.5 811.5,470.5 819.5,470.5 827.5,470.5 835.5,470.5 843.5,470.5 851.5,470.5 859.5,470.5 867.5,470.5 875.5,470.5 883.5,470.5 891.5,470.5 899.5,466.5 907.5,447.5 915.5,446.5 923.5,446.5 931.5,446.5 939.5,446.5 947.5,446.5 955.5,446.5 963.5,446.5 971.5,446.5 979.5,446.5 987.5,446.5 995.5,446.5 1003.5,446.5 1011.5,446.5 1019.5,444.5 1027.5,427.9 1035.5,427.5 1043.5,407.5 1051.5,390.5 1059.5,372.5 1067.5,372.5 1075.5,372.5 1083.5,365.5 1091.5,359.5 1099.5,353.5 1107.5,349.5 1115.5,342.5 1123.5,326.9 1131.5,326.9 1139.5,326.9 1147.5,326.9 1155.5,326.9" fill="none" stroke="#008000" stroke-dasharray="3.5 3.5"/>
<rect x="3" y="286" width="1233" height="2" fill="#0000ff"/>
<rect x="3" y="365" width="1233" height="2" fill="#0000ff"/>
<rect x="3" y="445" width="1233" height="2" fill="#0000ff"/>
</g>
<g clip-path="url(#cs)">
<line x1="4" y1="661.5" x2="1236" y2="661.5" stroke="#0000ff" stroke-width="1" stroke-dasharray="3 3"/>
<line x1="4" y1="718.5" x2="1236" y2="718.5" stroke="#0000ff" stroke-width="1" stroke-dasharray="3 3"/>
<polyline points="3.0,687.5 3.5,687.5 11.5,690.5 19.5,696.5 27.5,697.5 35.5,701.5 43.5,702.9 51.5,701.5 59.5,695.5 67.5,684.5 75.5,679.5 83.5,683.5 91.5,694.5 99.5,706.5 107.5,718.5 115.5,726.5 123.5,726.1 131.5,722.1 139.5,718.5 147.5,715.5 155.5,714.9 163.5,716.9 171.5,720.5 179.5,723.5 187.5,724.1 195.5,722.5 203.5,721.5 211.5,718.5 219.5,711.5 227.5,703.5 235.5,694.5 243.5,681.5 251.5,672.5 259.5,669.9 267.5,675.5 275.5,683.5 283.5,698.5 291.5,709.5 299.5,717.5 307.5,721.5 315.5,720.5 323.5,717.5 331.5,708.5 339.5,696.5 347.5,685.5 355.5,678.5 363.5,676.1 371.5,674.5 379.5,678.5 387.5,683.5 395.5,687.5 403.5,690.9 411.5,691.9 419.5,692.9 427.5,689.5 435.5,682.5 443.5,675.5 451.5,670.5 459.5,670.5 467.5,675.5 475.5,683.5 483.5,693.5 491.5,701.5 499.5,707.5 507.5,711.5 515.5,717.5 523.5,719.5 531.5,720.9 539.5,718.5 547.5,714.5 555.5,709.5 563.5,706.5 571.5,700.5 579.5,696.5 587.5,693.5 595.5,687.5 603.5,680.5 611.5,676.5 619.5,672.5 627.5,671.1 635.5,672.5 643.5,673.5 651.5,672.9 659.5,670.5 667.5,666.5 675.5,662.5 683.5,663.5 691.5,664.5 699.5,668.5 707.5,669.5 715.5,666.5 723.5,662.5 731.5,657.5 739.5,653.5 747.5,652.5 755.5,655.5 763.5,660.5 771.5,668.5 779.5,676.5 787.5,683.5 795.5,691.5 803.5,694.5 811.5,692.1 819.5,690.5 827.5,692.5 835.5,696.5 843.5,700.5 851.5,701.5 859.5,697.5 867.5,684.5 875.5,668.5 883.5,656.5 891.5,649.5 899.5,647.5 907.5,648.9 915.5,652.5 923.5,658.5 931.5,669.5 939.5,680.5 947.5,693.5 955.5,704.5 963.5,715.5 971.5,721.5 979.5,727.9" fill="none" stroke="#ff0000" stroke-dasharray="3.5 3.5"/>
<polyline points="3.0,696.1 3.5,696.1 11.5,686.9 19.5,699.5 27.5,712.5 35.5,715.9 43.5,699.5 51.5,681.5 59.5,664.1 67.5,669.5 75.5,687.5 83.5,714.5 91.5,729.5 99.5,730.9 107.5,729.5 115.5,725.5 123.5,718.5 131.5,710.5 139.5,706.5 147.5,712.5 155.5,726.5 163.5,729.9 171.5,726.9 179.5,718.5 187.5,719.5 195.5,722.5 203.5,721.5 211.5,706.1 219.5,696.5 227.5,684.5 235.5,670.5 243.5,651.5 251.5,661.5 259.5,682.5 267.5,700.5 275.5,717.5 283.5,721.5 291.5,727.9 299.5,722.5 307.5,716.9 315.5,712.5 323.5,704.9 331.5,688.5 339.5,664.5 347.5,662.5 355.5,676.9 363.5,685.9 371.5,684.5 379.5,682.9 387.5,688.5 395.5,696.5 403.5,698.9 411.5,689.9 419.5,689.9 427.5,673.5 435.5,667.5 443.5,652.9 451.5,669.5 459.5,682.5 467.5,702.5 475.5,703.9 483.5,709.5 491.5,707.9 499.5,714.5 507.5,724.5 515.5,729.9 523.5,721.5 531.5,710.5 539.5,701.9 547.5,706.5 555.5,705.9 563.5,702.5 571.5,687.5 579.5,681.9 587.5,687.9 595.5,675.5 603.5,669.9 611.5,660.9 619.5,670.5 627.5,676.5 635.5,685.9 643.5,675.5 651.5,662.5 659.5,652.9 667.5,659.5 675.5,666.5 683.5,670.5 691.5,677.9 699.5,670.5 707.5,665.5 715.5,650.5 723.5,647.9 731.5,650.5 739.5,653.5 747.5,660.5 755.5,664.5 763.5,671.9 771.5,680.5 779.5,695.5 787.5,701.9 795.5,701.9 803.5,688.5 811.5,677.9 819.5,683.5 827.5,707.5 835.5,724.9 843.5,711.5 851.5,682.5 859.5,656.5 867.5,646.9 875.5,645.9 883.5,647.9 891.5,646.9 899.5,649.9 907.5,653.5 915.5,665.5 923.5,680.5 931.5,700.5 939.5,701.9 947.5,715.5 955.5,724.5 963.5,734.9 971.5,732.5 979.5,728.5" fill="none" stroke="#008000"/>
</g>
<g clip-path="url(#cr)">
<line x1="3" y1="766.5" x2="1236" y2="766.5" stroke="#008000" stroke-width="1" stroke-dasharray="3 3"/>
<line x1="4" y1="778.5" x2="1236" y2="778.5" stroke="#0000ff" stroke-width="1" stroke-dasharray="3 3"/>
<line x1="4" y1="826.5" x2="1236" y2="826.5" stroke="#0000ff" stroke-width="1" stroke-dasharray="3 3"/>
<line x1="4" y1="838.5" x2="1236" y2="838.5" stroke="#ff0000" stroke-width="1" stroke-dasharray="3 3"/>
<polyline points="3.0,793.5 3.5,793.5 11.5,793.5 19.5,808.9 27.5,807.5 35.5,798.9 43.5,795.9 51.5,796.9 59.5,788.9 67.5,799.1 75.5,809.1 83.5,813.5 91.5,814.9 99.5,815.5 107.5,813.5 115.5,811.5 123.5,807.9 131.5,807.9 139.5,814.5 147.5,817.5 155.5,819.5 163.5,829.9 171.5,827.5 179.5,818.9 187.5,824.5 195.5,825.9 203.5,817.5 211.5,813.5 219.5,820.5 227.5,805.9 235.5,799.9 243.5,799.9 251.5,808.5 259.5,814.5 267.5,814.9 275.5,818.5 283.5,822.5 291.5,823.9 299.5,815.5 307.5,814.5 315.5,817.9 323.5,810.5 331.5,805.5 339.5,804.5 347.5,807.5 355.5,811.5 363.5,805.9 371.5,804.5 379.5,807.9 387.5,807.9 395.5,807.9 403.5,808.9 411.5,800.9 419.5,807.9 427.5,797.9 435.5,796.5 443.5,792.5 451.5,804.9 459.5,801.9 467.5,805.9 475.5,808.9 483.5,809.9 491.5,807.9 499.5,814.9 507.5,819.9 515.5,816.5 523.5,812.5 531.5,813.9 539.5,809.5 547.5,817.9 555.5,812.5 563.5,807.5 571.5,809.5 579.5,809.5 587.5,809.5 595.5,798.5 603.5,799.9 611.5,796.5 619.5,803.5 627.5,804.9 635.5,802.5 643.5,793.9 651.5,793.5 659.5,790.5 667.5,794.9 675.5,796.9 683.5,794.9 691.5,800.9 699.5,790.5 707.5,785.9 715.5,784.5 723.5,784.5 731.5,781.5 739.5,781.5 747.5,787.9 755.5,786.5 763.5,788.9 771.5,788.9 779.5,795.9 787.5,794.5 795.5,795.9 803.5,786.5 811.5,787.9 819.5,803.5 827.5,809.9 835.5,813.9 843.5,799.5 851.5,786.9 859.5,785.5 867.5,782.5 875.5,779.5 883.5,777.5 891.5,775.5 899.5,783.9 907.5,786.9 915.5,785.5 923.5,789.5 931.5,792.9 939.5,788.5 947.5,807.5 955.5,808.5 963.5,809.5 971.5,809.5 979.5,808.5" fill="none" stroke="#ff0000"/>
</g>
<rect x="2.5" y="2.5" width="1234" height="636" fill="none" stroke="#000"/>
<rect x="2.5" y="640.5" width="1234" height="98" fill="none" stroke="#000"/>
<rect x="2.5" y="740.5" width="1234" height="123" fill="none" stroke="#000"/>
<text x="7" y="14" font-size="9.70" fill="#000" stroke="#000" stroke-width="0.1" textLength="64" lengthAdjust="spacingAndGlyphs">USDCHF,Daily</text>
<text x="78.6" y="14" font-size="9.70" fill="#000" stroke="#000" stroke-width="0.1" textLength="26.4" lengthAdjust="spacingAndGlyphs">1.2278</text>
<text x="109.6" y="14" font-size="9.70" fill="#000" stroke="#000" stroke-width="0.1" textLength="26.4" lengthAdjust="spacingAndGlyphs">1.2289</text>
<text x="140.6" y="14" font-size="9.70" fill="#000" stroke="#000" stroke-width="0.1" textLength="26.4" lengthAdjust="spacingAndGlyphs">1.2273</text>
<text x="171.6" y="14" font-size="9.70" fill="#000" stroke="#000" stroke-width="0.1" textLength="26.4" lengthAdjust="spacingAndGlyphs">1.2281</text>
<text x="7" y="654" font-size="9.70" fill="#000" stroke="#000" stroke-width="0.1" textLength="48.5" lengthAdjust="spacingAndGlyphs">Stoch(8,5,3)</text>
<text x="60" y="654" font-size="9.70" fill="#000" stroke="#000" stroke-width="0.1" textLength="26.4" lengthAdjust="spacingAndGlyphs">9.8790</text>
<text x="91.5" y="654" font-size="9.70" fill="#000" stroke="#000" stroke-width="0.1" textLength="31" lengthAdjust="spacingAndGlyphs">11.4727</text>
<text x="7" y="754" font-size="9.70" fill="#000" stroke="#000" stroke-width="0.1" textLength="31" lengthAdjust="spacingAndGlyphs">RSI(14)</text>
<text x="42" y="754" font-size="9.70" fill="#000" stroke="#000" stroke-width="0.1" textLength="32" lengthAdjust="spacingAndGlyphs">44.8391</text>
<text x="6" y="858" font-size="9.70" fill="#000" stroke="#000" stroke-width="0.1" textLength="11" lengthAdjust="spacingAndGlyphs">HY</text>
<text x="23" y="858" font-size="9.70" fill="#000" stroke="#000" stroke-width="0.1" textLength="31.5" lengthAdjust="spacingAndGlyphs">Trader,</text>
<text x="58.3" y="858" font-size="9.70" fill="#000" stroke="#000" stroke-width="0.1" textLength="4" lengthAdjust="spacingAndGlyphs">?</text>
<text x="65.8" y="858" font-size="9.70" fill="#000" stroke="#000" stroke-width="0.1" textLength="43.2" lengthAdjust="spacingAndGlyphs">2001-2007</text>
<text x="113" y="858" font-size="9.70" fill="#000" stroke="#000" stroke-width="0.1" textLength="53" lengthAdjust="spacingAndGlyphs">MetaQuotes</text>
<text x="169.5" y="858" font-size="9.70" fill="#000" stroke="#000" stroke-width="0.1" textLength="40" lengthAdjust="spacingAndGlyphs">Software</text>
<text x="213" y="858" font-size="9.70" fill="#000" stroke="#000" stroke-width="0.1" textLength="24.5" lengthAdjust="spacingAndGlyphs">Corp.</text>
<rect x="1237" y="4" width="2" height="1" fill="#000"/>
<text x="1243" y="7" font-size="9.70" fill="#000" stroke="#000" stroke-width="0.1" textLength="26.4" lengthAdjust="spacingAndGlyphs">1.2580</text>
<rect x="1237" y="41" width="2" height="1" fill="#000"/>
<text x="1243" y="44" font-size="9.70" fill="#000" stroke="#000" stroke-width="0.1" textLength="26.4" lengthAdjust="spacingAndGlyphs">1.2545</text>
<rect x="1237" y="77" width="2" height="1" fill="#000"/>
<text x="1243" y="80" font-size="9.70" fill="#000" stroke="#000" stroke-width="0.1" textLength="26.4" lengthAdjust="spacingAndGlyphs">1.2510</text>
<rect x="1237" y="114" width="2" height="1" fill="#000"/>
<text x="1243" y="117" font-size="9.70" fill="#000" stroke="#000" stroke-width="0.1" textLength="26.4" lengthAdjust="spacingAndGlyphs">1.2475</text>
<rect x="1237" y="151" width="2" height="1" fill="#000"/>
<text x="1243" y="154" font-size="9.70" fill="#000" stroke="#000" stroke-width="0.1" textLength="26.4" lengthAdjust="spacingAndGlyphs">1.2440</text>
<rect x="1237" y="188" width="2" height="1" fill="#000"/>
<text x="1243" y="191" font-size="9.70" fill="#000" stroke="#000" stroke-width="0.1" textLength="26.4" lengthAdjust="spacingAndGlyphs">1.2405</text>
<rect x="1237" y="225" width="2" height="1" fill="#000"/>
<text x="1243" y="228" font-size="9.70" fill="#000" stroke="#000" stroke-width="0.1" textLength="26.4" lengthAdjust="spacingAndGlyphs">1.2370</text>
<rect x="1237" y="262" width="2" height="1" fill="#000"/>
<text x="1243" y="265" font-size="9.70" fill="#000" stroke="#000" stroke-width="0.1" textLength="26.4" lengthAdjust="spacingAndGlyphs">1.2335</text>
<rect x="1237" y="299" width="2" height="1" fill="#000"/>
<text x="1243" y="302" font-size="9.70" fill="#000" stroke="#000" stroke-width="0.1" textLength="26.4" lengthAdjust="spacingAndGlyphs">1.2300</text>
<rect x="1237" y="336" width="2" height="1" fill="#000"/>
<text x="1243" y="339" font-size="9.70" fill="#000" stroke="#000" stroke-width="0.1" textLength="26.4" lengthAdjust="spacingAndGlyphs">1.2265</text>
<rect x="1237" y="373" width="2" height="1" fill="#000"/>
<text x="1243" y="376" font-size="9.70" fill="#000" stroke="#000" stroke-width="0.1" textLength="26.4" lengthAdjust="spacingAndGlyphs">1.2230</text>
<rect x="1237" y="410" width="2" height="1" fill="#000"/>
<text x="1243" y="413" font-size="9.70" fill="#000" stroke="#000" stroke-width="0.1" textLength="26.4" lengthAdjust="spacingAndGlyphs">1.2195</text>
<rect x="1237" y="447" width="2" height="1" fill="#000"/>
<rect x="1237" y="484" width="2" height="1" fill="#000"/>
<text x="1243" y="487" font-size="9.70" fill="#000" stroke="#000" stroke-width="0.1" textLength="26.4" lengthAdjust="spacingAndGlyphs">1.2125</text>
<rect x="1237" y="521" width="2" height="1" fill="#000"/>
<text x="1243" y="524" font-size="9.70" fill="#000" stroke="#000" stroke-width="0.1" textLength="26.4" lengthAdjust="spacingAndGlyphs">1.2090</text>
<rect x="1237" y="558" width="2" height="1" fill="#000"/>
<text x="1243" y="561" font-size="9.70" fill="#000" stroke="#000" stroke-width="0.1" textLength="26.4" lengthAdjust="spacingAndGlyphs">1.2055</text>
<rect x="1237" y="594" width="2" height="1" fill="#000"/>
<text x="1243" y="597" font-size="9.70" fill="#000" stroke="#000" stroke-width="0.1" textLength="26.4" lengthAdjust="spacingAndGlyphs">1.2020</text>
<rect x="1237" y="631" width="2" height="1" fill="#000"/>
<text x="1243" y="634" font-size="9.70" fill="#000" stroke="#000" stroke-width="0.1" textLength="26.4" lengthAdjust="spacingAndGlyphs">1.1985</text>
<rect x="1239" y="281" width="34" height="11" fill="#0000ff"/>
<text x="1243" y="290" font-size="9.70" fill="#fff" stroke="#fff" stroke-width="0.1" textLength="26.4" lengthAdjust="spacingAndGlyphs">1.2312</text>
<rect x="1239" y="313" width="34" height="11" fill="#000000"/>
<text x="1243" y="322" font-size="9.70" fill="#fff" stroke="#fff" stroke-width="0.1" textLength="26.4" lengthAdjust="spacingAndGlyphs">1.2281</text>
<rect x="1239" y="360" width="34" height="11" fill="#0000ff"/>
<text x="1243" y="369" font-size="9.70" fill="#fff" stroke="#fff" stroke-width="0.1" textLength="26.4" lengthAdjust="spacingAndGlyphs">1.2237</text>
<rect x="1239" y="440" width="34" height="11" fill="#0000ff"/>
<text x="1243" y="449" font-size="9.70" fill="#fff" stroke="#fff" stroke-width="0.1" textLength="26.4" lengthAdjust="spacingAndGlyphs">1.2161</text>
<rect x="1237" y="642" width="1" height="1" fill="#000"/>
<rect x="1237" y="742" width="1" height="1" fill="#000"/>
<text x="1240.7" y="651" font-size="9.70" fill="#000" stroke="#000" stroke-width="0.1" textLength="13.5" lengthAdjust="spacingAndGlyphs">100</text>
<text x="1238.7" y="664" font-size="9.70" fill="#000" stroke="#000" stroke-width="0.1" textLength="9.5" lengthAdjust="spacingAndGlyphs">80</text>
<text x="1238.7" y="721" font-size="9.70" fill="#000" stroke="#000" stroke-width="0.1" textLength="9.5" lengthAdjust="spacingAndGlyphs">20</text>
<text x="1240.7" y="735" font-size="9.70" fill="#000" stroke="#000" stroke-width="0.1" textLength="4.6" lengthAdjust="spacingAndGlyphs">0</text>
<text x="1240.7" y="751" font-size="9.70" fill="#000" stroke="#000" stroke-width="0.1" textLength="13.5" lengthAdjust="spacingAndGlyphs">100</text>
<text x="1238.7" y="781" font-size="9.70" fill="#000" stroke="#000" stroke-width="0.1" textLength="9.5" lengthAdjust="spacingAndGlyphs">70</text>
<text x="1238.7" y="829" font-size="9.70" fill="#000" stroke="#000" stroke-width="0.1" textLength="9.5" lengthAdjust="spacingAndGlyphs">30</text>
<text x="1240.7" y="860" font-size="9.70" fill="#000" stroke="#000" stroke-width="0.1" textLength="4.6" lengthAdjust="spacingAndGlyphs">0</text>
<rect x="1239" y="760" width="35" height="11" fill="#008000"/>
<text x="1242" y="769" font-size="9.70" fill="#fff" stroke="#fff" stroke-width="0.1" textLength="32" lengthAdjust="spacingAndGlyphs">80.0000</text>
<rect x="1239" y="832" width="35" height="11" fill="#ff0000"/>
<text x="1242" y="841" font-size="9.70" fill="#fff" stroke="#fff" stroke-width="0.1" textLength="32" lengthAdjust="spacingAndGlyphs">20.0000</text>
<rect x="3" y="864" width="1" height="2" fill="#000"/>
<text x="2" y="876" font-size="9.70" fill="#000" stroke="#000" stroke-width="0.1" textLength="45.7" lengthAdjust="spacingAndGlyphs">4 Feb 2007</text>
<rect x="67" y="864" width="1" height="2" fill="#000"/>
<text x="66" y="876" font-size="9.70" fill="#000" stroke="#000" stroke-width="0.1" textLength="50.3" lengthAdjust="spacingAndGlyphs">13 Feb 2007</text>
<rect x="131" y="864" width="1" height="2" fill="#000"/>
<text x="130" y="876" font-size="9.70" fill="#000" stroke="#000" stroke-width="0.1" textLength="50.6" lengthAdjust="spacingAndGlyphs">22 Feb 2007</text>
<rect x="195" y="864" width="1" height="2" fill="#000"/>
<text x="194" y="876" font-size="9.70" fill="#000" stroke="#000" stroke-width="0.1" textLength="45.3" lengthAdjust="spacingAndGlyphs">4 Mar 2007</text>
<rect x="259" y="864" width="1" height="2" fill="#000"/>
<text x="258" y="876" font-size="9.70" fill="#000" stroke="#000" stroke-width="0.1" textLength="51" lengthAdjust="spacingAndGlyphs">13 Mar 2007</text>
<rect x="323" y="864" width="1" height="2" fill="#000"/>
<text x="322" y="876" font-size="9.70" fill="#000" stroke="#000" stroke-width="0.1" textLength="50.6" lengthAdjust="spacingAndGlyphs">22 Mar 2007</text>
<rect x="387" y="864" width="1" height="2" fill="#000"/>
<text x="386" y="876" font-size="9.70" fill="#000" stroke="#000" stroke-width="0.1" textLength="45" lengthAdjust="spacingAndGlyphs">1 Apr 2007</text>
<rect x="451" y="864" width="1" height="2" fill="#000"/>
<text x="450" y="876" font-size="9.70" fill="#000" stroke="#000" stroke-width="0.1" textLength="49.4" lengthAdjust="spacingAndGlyphs">10 Apr 2007</text>
<rect x="515" y="864" width="1" height="2" fill="#000"/>
<text x="514" y="876" font-size="9.70" fill="#000" stroke="#000" stroke-width="0.1" textLength="49.6" lengthAdjust="spacingAndGlyphs">19 Apr 2007</text>
<rect x="579" y="864" width="1" height="2" fill="#000"/>
<text x="578" y="876" font-size="9.70" fill="#000" stroke="#000" stroke-width="0.1" textLength="49.6" lengthAdjust="spacingAndGlyphs">29 Apr 2007</text>
<rect x="643" y="864" width="1" height="2" fill="#000"/>
<text x="642" y="876" font-size="9.70" fill="#000" stroke="#000" stroke-width="0.1" textLength="49" lengthAdjust="spacingAndGlyphs">8 May 2007</text>
<rect x="707" y="864" width="1" height="2" fill="#000"/>
<text x="706" y="876" font-size="9.70" fill="#000" stroke="#000" stroke-width="0.1" textLength="53.5" lengthAdjust="spacingAndGlyphs">17 May 2007</text>
<rect x="771" y="864" width="1" height="2" fill="#000"/>
<text x="770" y="876" font-size="9.70" fill="#000" stroke="#000" stroke-width="0.1" textLength="54.6" lengthAdjust="spacingAndGlyphs">27 May 2007</text>
<rect x="835" y="864" width="1" height="2" fill="#000"/>
<text x="834" y="876" font-size="9.70" fill="#000" stroke="#000" stroke-width="0.1" textLength="44.4" lengthAdjust="spacingAndGlyphs">6 Jun 2007</text>
<rect x="899" y="864" width="1" height="2" fill="#000"/>
<text x="898" y="876" font-size="9.70" fill="#000" stroke="#000" stroke-width="0.1" textLength="49" lengthAdjust="spacingAndGlyphs">15 Jun 2007</text>
<rect x="963" y="864" width="1" height="2" fill="#000"/>
<text x="962" y="876" font-size="9.70" fill="#000" stroke="#000" stroke-width="0.1" textLength="48.6" lengthAdjust="spacingAndGlyphs">25 Jun 2007</text>
</svg>
</body></html>
